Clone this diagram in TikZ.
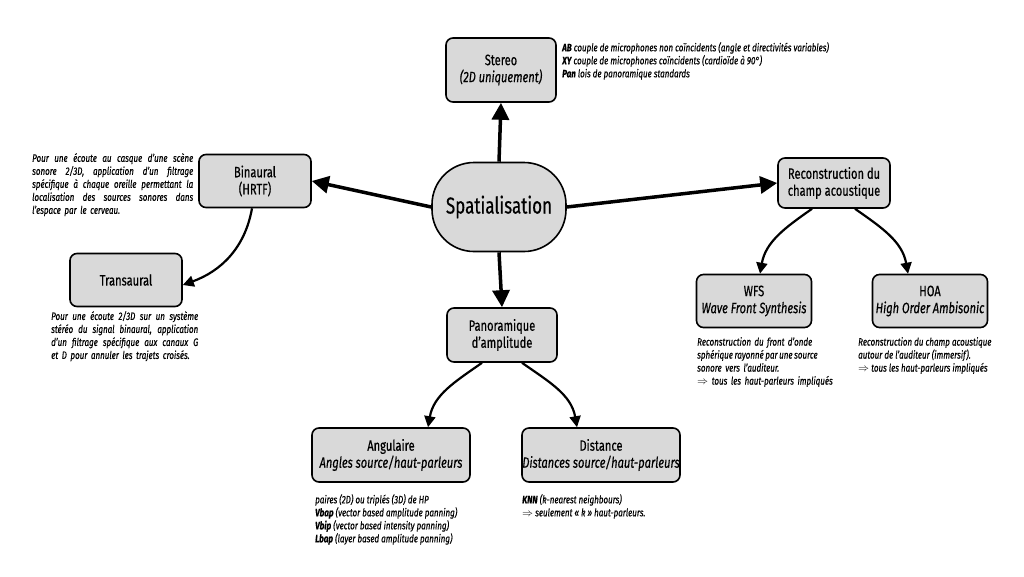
\documentclass[tikz,border=0pt]{standalone}
\usepackage{fontspec}
\setmainfont{Fira Sans}[FakeStretch=0.74,FakeBold=0.4]
\usetikzlibrary{arrows.meta}
\definecolor{boxgray}{HTML}{D9D9D9}
\newcommand\jline[1]{\hbox to \hsize{\spaceskip=0.25em plus 1em minus 0.1em #1}}
\tikzset{
  box/.style={draw, line width=1.6pt, fill=boxgray, rounded corners=7pt, align=center,
    font=\fontsize{15}{17}\selectfont, inner sep=0pt},
  note/.style={anchor=north west, font=\fontsize{10.8}{13}\selectfont\itshape, inner sep=0pt},
  bigarrow/.style={line width=3.5pt, -{Triangle[length=17pt,width=17pt]}},
  curvarrow/.style={line width=2.2pt, -{Triangle[length=11pt,width=11pt]}}
}
\begin{document}
\begin{tikzpicture}[x=1pt,y=-1pt]
\fill[white] (0,0) rectangle (1024,576);
\useasboundingbox (0,0) rectangle (1024,576);

\node[box, rounded corners=42pt, minimum width=134pt, minimum height=89pt,
      font=\fontsize{23}{27}\selectfont] (sp) at (499,207) {Spatialisation};
\node[box, minimum width=110pt, minimum height=64pt] (stereo) at (501,70) {Stereo\\\itshape(2D uniquement)};
\node[box, minimum width=112pt, minimum height=53pt] (bin) at (255,181) {Binaural\\(HRTF)};
\node[box, minimum width=112pt, minimum height=53pt] (trans) at (126,280) {Transaural};
\node[box, minimum width=112pt, minimum height=50pt] (rec) at (834,183) {Reconstruction du\\champ acoustique};
\node[box, minimum width=115pt, minimum height=53pt] (wfs) at (754,301) {WFS\\\itshape Wave Front Synthesis};
\node[box, minimum width=115pt, minimum height=53pt] (hoa) at (930,301) {HOA\\\itshape High Order Ambisonic};
\node[box, minimum width=110pt, minimum height=54pt] (pan) at (502,335) {Panoramique\\d’amplitude};
\node[box, minimum width=158pt, minimum height=54pt] (ang) at (391,455) {Angulaire\\\itshape Angles source/haut-parleurs};
\node[box, minimum width=158pt, minimum height=54pt] (dist) at (601,455) {Distance\\\itshape Distances source/haut-parleurs};

\node[note, align=left] (stereotxt) at (562,42) {\textbf{AB} couple de microphones non coïncidents (angle et directivités variables)\\
\textbf{XY} couple de microphones coïncidents (cardioïde à 90°)\\
\textbf{Pan} lois de panoramique standards};

\node[note, text width=161pt, align=left] (bintxt) at (32,153) {\jline{Pour une écoute au casque d’une scène}
\jline{sonore 2/3D, application d’un filtrage}
\jline{spécifique à chaque oreille permettant la}
\jline{localisation des sources sonores dans}
\hbox{l’espace par le cerveau.}};

\node[note, text width=147pt, align=left] (transtxt) at (51,311) {\jline{Pour une écoute 2/3D sur un système}
\jline{stéréo du signal binaural, application}
\jline{d’un filtrage spécifique aux canaux G}
\hbox{et D pour annuler les trajets croisés.}};

\node[note, text width=115pt, align=left] (wfstxt) at (697,337) {\jline{Reconstruction du front d’onde}
\jline{sphérique rayonné par une source}
\hbox{sonore vers l’auditeur.}
\hbox{$\Rightarrow$ tous les haut-parleurs impliqués}};

\node[note, align=left] (hoatxt) at (858,337) {Reconstruction du champ acoustique\\
autour de l’auditeur (immersif).\\
$\Rightarrow$ tous les haut-parleurs impliqués};

\node[note, align=left] (angtxt) at (315,494) {paires (2D) ou triplés (3D) de HP\\
\textbf{Vbap} (vector based amplitude panning)\\
\textbf{Vbip} (vector based intensity panning)\\
\textbf{Lbap} (layer based amplitude panning)};

\node[note, align=left] (disttxt) at (522,494) {\textbf{KNN} (k-nearest neighbours)\\
$\Rightarrow$ seulement « k » haut-parleurs.};

\draw[bigarrow] (sp.north) -- (stereo.south);
\draw[bigarrow] (sp.west) -- (bin.east);
\draw[bigarrow] (sp.east) -- (rec.west);
\draw[bigarrow] (sp.south) -- (pan.north);

\draw[curvarrow] ([xshift=-3pt]bin.south) to[out=-100,in=20] ([yshift=-5pt]trans.east);
\draw[curvarrow] ([xshift=-22pt]rec.south) to[out=-145,in=80] ([xshift=6pt]wfs.north);
\draw[curvarrow] ([xshift=21pt]rec.south) to[out=-35,in=100] ([xshift=-22pt]hoa.north);
\draw[curvarrow] ([xshift=-20pt]pan.south) to[out=-145,in=80] ([xshift=37pt]ang.north);
\draw[curvarrow] ([xshift=20pt]pan.south) to[out=-35,in=100] ([xshift=-24pt]dist.north);
\end{tikzpicture}
\end{document}
